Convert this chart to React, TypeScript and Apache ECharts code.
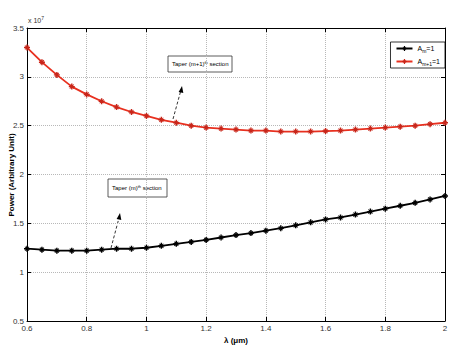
import React, { useEffect, useRef } from "react";
import * as echarts from "echarts";

const wavelengths = [0.6, 0.65, 0.7, 0.75, 0.8, 0.85, 0.9, 0.95, 1.0, 1.05, 1.1, 1.15, 1.2, 1.25, 1.3, 1.35, 1.4, 1.45, 1.5, 1.55, 1.6, 1.65, 1.7, 1.75, 1.8, 1.85, 1.9, 1.95, 2.0];
const powerM = [1.24, 1.23, 1.22, 1.22, 1.22, 1.23, 1.24, 1.24, 1.25, 1.27, 1.29, 1.31, 1.33, 1.355, 1.38, 1.40, 1.425, 1.45, 1.48, 1.51, 1.54, 1.56, 1.59, 1.62, 1.65, 1.68, 1.71, 1.745, 1.78];
const powerM1 = [3.30, 3.15, 3.02, 2.90, 2.82, 2.75, 2.69, 2.64, 2.60, 2.56, 2.53, 2.50, 2.48, 2.47, 2.46, 2.45, 2.45, 2.44, 2.44, 2.44, 2.445, 2.45, 2.46, 2.47, 2.48, 2.49, 2.50, 2.515, 2.53];
const seriesNames = ["A_m=1", "A_m+1=1"];
const xTitle = "λ (μm)";
const yTitle = "Power (Arbitrary Unit)";

const FONT = "Liberation Sans";
const STAR =
  "path://M-1.2,-5 L1.2,-5 L1.2,-1.2 L5,-1.2 L5,1.2 L1.2,1.2 L1.2,5 L-1.2,5 L-1.2,1.2 L-5,1.2 L-5,-1.2 L-1.2,-1.2 Z M-3.9,-2.9 L-2.9,-3.9 L3.9,2.9 L2.9,3.9 Z M2.9,-3.9 L3.9,-2.9 L-2.9,3.9 L-3.9,2.9 Z";

export default function App() {
  const ref = useRef<HTMLDivElement>(null);
  useEffect(() => {
    const chart = echarts.init(ref.current!, null, { renderer: "svg" });
    const fmt = (v: number) => String(+v.toFixed(1));
    const axisCommon = {
      axisLine: { lineStyle: { color: "#000", width: 1 } },
      axisTick: { inside: true, length: 4, lineStyle: { color: "#000" } },
      axisLabel: { color: "#333", fontSize: 8, fontFamily: FONT },
    };
    const gridLine = { show: true, lineStyle: { type: "dotted", color: "#b8b8b8", width: 1 } };
    chart.setOption({
      animation: false,
      backgroundColor: "#fff",
      grid: { left: 27, right: 22, top: 28, bottom: 31, containLabel: false, outerBoundsMode: "none" },
      xAxis: [
        {
          type: "value",
          min: 0.6,
          max: 2,
          interval: 0.2,
          ...axisCommon,
          axisLabel: { ...axisCommon.axisLabel, margin: 3, formatter: fmt },
          splitLine: gridLine,
          name: xTitle,
          nameLocation: "middle",
          nameGap: 14,
          nameTextStyle: { fontSize: 8, fontWeight: "bold", fontFamily: FONT, color: "#000" },
        },
        {
          type: "value",
          position: "top",
          min: 0.6,
          max: 2,
          interval: 0.2,
          ...axisCommon,
          axisLabel: { show: false },
          splitLine: { show: false },
        },
      ],
      yAxis: [
        {
          type: "value",
          min: 0.5,
          max: 3.5,
          interval: 0.5,
          ...axisCommon,
          axisLabel: { ...axisCommon.axisLabel, margin: 3, formatter: fmt },
          splitLine: gridLine,
        },
        {
          type: "value",
          position: "right",
          min: 0.5,
          max: 3.5,
          interval: 0.5,
          ...axisCommon,
          axisLabel: { show: false },
          splitLine: { show: false },
        },
      ],
      legend: {
        right: 22,
        top: 42,
        orient: "vertical",
        backgroundColor: "#fff",
        borderColor: "#000",
        borderWidth: 0.8,
        padding: [3, 5, 2, 5],
        itemGap: 5,
        itemWidth: 16,
        itemHeight: 6,
        formatter: (name: string) =>
          name === seriesNames[0] ? "A{sub|m}=1" : "A{sub|m+1}=1",
        textStyle: {
          fontSize: 7,
          fontFamily: FONT,
          color: "#000",
          rich: { sub: { fontSize: 5, verticalAlign: "bottom", padding: [4, 0, 0, 0] } },
        },
        data: seriesNames,
      },
      series: [
        {
          name: seriesNames[0],
          type: "line",
          data: wavelengths.map((x, i) => [x, powerM[i]]),
          color: "#000",
          lineStyle: { width: 1.8, color: "#000" },
          symbol: STAR,
          symbolSize: 6,
          showAllSymbol: true,
          itemStyle: { color: "#000" },
        },
        {
          name: seriesNames[1],
          type: "line",
          data: wavelengths.map((x, i) => [x, powerM1[i]]),
          color: "#e8301f",
          lineStyle: { width: 1.8, color: "#e8301f" },
          symbol: STAR,
          symbolSize: 6,
          showAllSymbol: true,
          itemStyle: { color: "#c8261a" },
        },
      ],
      graphic: [
        {
          type: "text",
          x: 11,
          y: 175,
          rotation: Math.PI / 2,
          style: {
            text: yTitle,
            fontSize: 8,
            fontWeight: "bold",
            fontFamily: FONT,
            fill: "#000",
            align: "center",
            verticalAlign: "middle",
          },
        },
        {
          type: "text",
          x: 28,
          y: 15,
          style: {
            text: "x 10{sup|7}",
            fontSize: 7,
            fontFamily: FONT,
            fill: "#333",
            rich: { sup: { fontSize: 5, verticalAlign: "top", padding: [0, 0, 5, 0] } },
          },
        },
        {
          type: "rect",
          shape: { x: 168, y: 56, width: 64, height: 16 },
          style: { fill: "#fff", stroke: "#333", lineWidth: 0.8 },
        },
        {
          type: "text",
          x: 172,
          y: 60,
          style: {
            text: "Taper (m+1){sup|th} section",
            fontSize: 6,
            fontFamily: FONT,
            fill: "#000",
            rich: { sup: { fontSize: 4, verticalAlign: "top", padding: [0, 0, 4, 0] } },
          },
        },
        {
          type: "line",
          shape: { x1: 173, y1: 119, x2: 181, y2: 90 },
          style: { stroke: "#000", lineWidth: 0.8, lineDash: [3, 2] },
        },
        {
          type: "polygon",
          shape: { points: [[182, 86], [178.6, 92], [183.3, 93]] },
          style: { fill: "#000" },
        },
        {
          type: "rect",
          shape: { x: 108, y: 179, width: 59, height: 18 },
          style: { fill: "#fff", stroke: "#333", lineWidth: 0.8 },
        },
        {
          type: "text",
          x: 112,
          y: 184,
          style: {
            text: "Taper (m){sup|th} section",
            fontSize: 6,
            fontFamily: FONT,
            fill: "#000",
            rich: { sup: { fontSize: 4, verticalAlign: "top", padding: [0, 0, 4, 0] } },
          },
        },
        {
          type: "line",
          shape: { x1: 111, y1: 248, x2: 119, y2: 218 },
          style: { stroke: "#000", lineWidth: 0.8, lineDash: [3, 2] },
        },
        {
          type: "polygon",
          shape: { points: [[120, 213], [116.6, 219], [121.3, 220]] },
          style: { fill: "#000" },
        },
      ],
    });
    return () => chart.dispose();
  }, []);
  return <div ref={ref} style={{ width: 467, height: 352, position: "absolute", left: 0, top: 0 }} />;
}
